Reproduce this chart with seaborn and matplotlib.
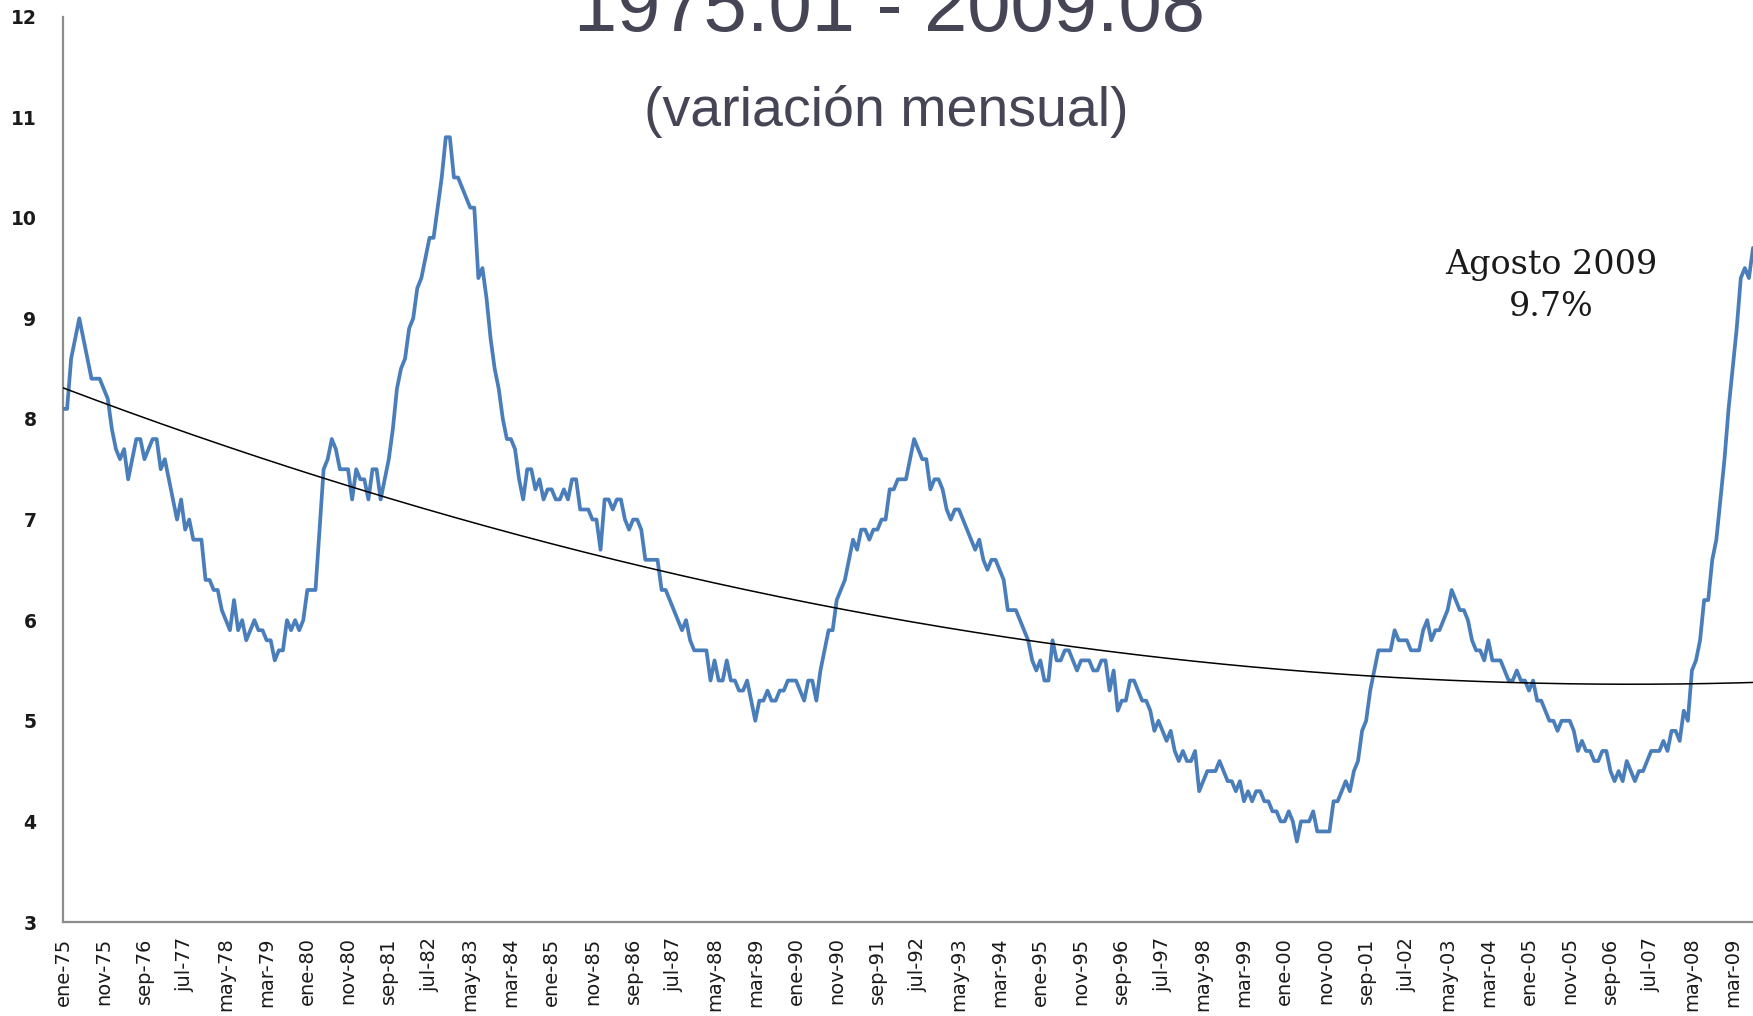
import numpy as np
import pandas as pd
import matplotlib
matplotlib.use("Agg")
import matplotlib.pyplot as plt
import seaborn as sns

# ---- data: US unemployment rate, monthly, 1975.01 - 2009.08 ----
u1975 = [8.1, 8.1, 8.6, 8.8, 9.0, 8.8, 8.6, 8.4, 8.4, 8.4, 8.3, 8.2]
u1976 = [7.9, 7.7, 7.6, 7.7, 7.4, 7.6, 7.8, 7.8, 7.6, 7.7, 7.8, 7.8]
u1977 = [7.5, 7.6, 7.4, 7.2, 7.0, 7.2, 6.9, 7.0, 6.8, 6.8, 6.8, 6.4]
u1978 = [6.4, 6.3, 6.3, 6.1, 6.0, 5.9, 6.2, 5.9, 6.0, 5.8, 5.9, 6.0]
u1979 = [5.9, 5.9, 5.8, 5.8, 5.6, 5.7, 5.7, 6.0, 5.9, 6.0, 5.9, 6.0]
u1980 = [6.3, 6.3, 6.3, 6.9, 7.5, 7.6, 7.8, 7.7, 7.5, 7.5, 7.5, 7.2]
u1981 = [7.5, 7.4, 7.4, 7.2, 7.5, 7.5, 7.2, 7.4, 7.6, 7.9, 8.3, 8.5]
u1982 = [8.6, 8.9, 9.0, 9.3, 9.4, 9.6, 9.8, 9.8, 10.1, 10.4, 10.8, 10.8]
u1983 = [10.4, 10.4, 10.3, 10.2, 10.1, 10.1, 9.4, 9.5, 9.2, 8.8, 8.5, 8.3]
u1984 = [8.0, 7.8, 7.8, 7.7, 7.4, 7.2, 7.5, 7.5, 7.3, 7.4, 7.2, 7.3]
u1985 = [7.3, 7.2, 7.2, 7.3, 7.2, 7.4, 7.4, 7.1, 7.1, 7.1, 7.0, 7.0]
u1986 = [6.7, 7.2, 7.2, 7.1, 7.2, 7.2, 7.0, 6.9, 7.0, 7.0, 6.9, 6.6]
u1987 = [6.6, 6.6, 6.6, 6.3, 6.3, 6.2, 6.1, 6.0, 5.9, 6.0, 5.8, 5.7]
u1988 = [5.7, 5.7, 5.7, 5.4, 5.6, 5.4, 5.4, 5.6, 5.4, 5.4, 5.3, 5.3]
u1989 = [5.4, 5.2, 5.0, 5.2, 5.2, 5.3, 5.2, 5.2, 5.3, 5.3, 5.4, 5.4]
u1990 = [5.4, 5.3, 5.2, 5.4, 5.4, 5.2, 5.5, 5.7, 5.9, 5.9, 6.2, 6.3]
u1991 = [6.4, 6.6, 6.8, 6.7, 6.9, 6.9, 6.8, 6.9, 6.9, 7.0, 7.0, 7.3]
u1992 = [7.3, 7.4, 7.4, 7.4, 7.6, 7.8, 7.7, 7.6, 7.6, 7.3, 7.4, 7.4]
u1993 = [7.3, 7.1, 7.0, 7.1, 7.1, 7.0, 6.9, 6.8, 6.7, 6.8, 6.6, 6.5]
u1994 = [6.6, 6.6, 6.5, 6.4, 6.1, 6.1, 6.1, 6.0, 5.9, 5.8, 5.6, 5.5]
u1995 = [5.6, 5.4, 5.4, 5.8, 5.6, 5.6, 5.7, 5.7, 5.6, 5.5, 5.6, 5.6]
u1996 = [5.6, 5.5, 5.5, 5.6, 5.6, 5.3, 5.5, 5.1, 5.2, 5.2, 5.4, 5.4]
u1997 = [5.3, 5.2, 5.2, 5.1, 4.9, 5.0, 4.9, 4.8, 4.9, 4.7, 4.6, 4.7]
u1998 = [4.6, 4.6, 4.7, 4.3, 4.4, 4.5, 4.5, 4.5, 4.6, 4.5, 4.4, 4.4]
u1999 = [4.3, 4.4, 4.2, 4.3, 4.2, 4.3, 4.3, 4.2, 4.2, 4.1, 4.1, 4.0]
u2000 = [4.0, 4.1, 4.0, 3.8, 4.0, 4.0, 4.0, 4.1, 3.9, 3.9, 3.9, 3.9]
u2001 = [4.2, 4.2, 4.3, 4.4, 4.3, 4.5, 4.6, 4.9, 5.0, 5.3, 5.5, 5.7]
u2002 = [5.7, 5.7, 5.7, 5.9, 5.8, 5.8, 5.8, 5.7, 5.7, 5.7, 5.9, 6.0]
u2003 = [5.8, 5.9, 5.9, 6.0, 6.1, 6.3, 6.2, 6.1, 6.1, 6.0, 5.8, 5.7]
u2004 = [5.7, 5.6, 5.8, 5.6, 5.6, 5.6, 5.5, 5.4, 5.4, 5.5, 5.4, 5.4]
u2005 = [5.3, 5.4, 5.2, 5.2, 5.1, 5.0, 5.0, 4.9, 5.0, 5.0, 5.0, 4.9]
u2006 = [4.7, 4.8, 4.7, 4.7, 4.6, 4.6, 4.7, 4.7, 4.5, 4.4, 4.5, 4.4]
u2007 = [4.6, 4.5, 4.4, 4.5, 4.5, 4.6, 4.7, 4.7, 4.7, 4.8, 4.7, 4.9]
u2008 = [4.9, 4.8, 5.1, 5.0, 5.5, 5.6, 5.8, 6.2, 6.2, 6.6, 6.8, 7.2]
u2009 = [7.6, 8.1, 8.5, 8.9, 9.4, 9.5, 9.4, 9.7]

tick_labels = ["ene-75", "nov-75", "sep-76", "jul-77", "may-78", "mar-79",
               "ene-80", "nov-80", "sep-81", "jul-82", "may-83", "mar-84",
               "ene-85", "nov-85", "sep-86", "jul-87", "may-88", "mar-89",
               "ene-90", "nov-90", "sep-91", "jul-92", "may-93", "mar-94",
               "ene-95", "nov-95", "sep-96", "jul-97", "may-98", "mar-99",
               "ene-00", "nov-00", "sep-01", "jul-02", "may-03", "mar-04",
               "ene-05", "nov-05", "sep-06", "jul-07", "may-08", "mar-09"]
tick_step = 10  # months between labels

title_text = "1975.01 - 2009.08"
subtitle_text = "(variación mensual)"
note_text = "Agosto 2009\n9.7%"

values = np.array(u1975 + u1976 + u1977 + u1978 + u1979 + u1980 + u1981 +
                  u1982 + u1983 + u1984 + u1985 + u1986 + u1987 + u1988 +
                  u1989 + u1990 + u1991 + u1992 + u1993 + u1994 + u1995 +
                  u1996 + u1997 + u1998 + u1999 + u2000 + u2001 + u2002 +
                  u2003 + u2004 + u2005 + u2006 + u2007 + u2008 + u2009)
idx = np.arange(len(values))
df = pd.DataFrame({"mes": idx, "tasa": values})

# polynomial (order 2) trend, like Excel's trendline
coef = np.polyfit(idx + 1, values, 2)
df["tendencia"] = np.polyval(coef, idx + 1)

# ---- plot ----
sns.set_theme(style="white")
plt.rcParams["font.family"] = ["DejaVu Sans"]

fig = plt.figure(figsize=(17.53, 10.16), dpi=100)
ax = fig.add_axes([63 / 1753, 1 - 922 / 1016, 1 - 63 / 1753, (922 - 16.5) / 1016])

sns.lineplot(data=df, x="mes", y="tasa", ax=ax, color="#4A7EBB", linewidth=2.7,
             zorder=3)
sns.lineplot(data=df, x="mes", y="tendencia", ax=ax, color="black", linewidth=1.1,
             zorder=4)

ax.set_xlim(0, len(values) - 1)
ax.set_ylim(3, 12)
ax.set_yticks(range(3, 13))
ax.set_xticks(np.arange(len(tick_labels)) * tick_step)
ax.set_xticklabels(tick_labels, rotation=90, fontsize=14, color="#1a1a1a")
ax.set_yticklabels([str(v) for v in range(3, 13)], fontsize=13.5,
                   fontweight="bold", color="#1a1a1a")
ax.set_xlabel("")
ax.set_ylabel("")

for s in ["top", "right"]:
    ax.spines[s].set_visible(False)
for s in ["left", "bottom"]:
    ax.spines[s].set_color("#8c8c8c")
    ax.spines[s].set_linewidth(1.6)
ax.tick_params(axis="both", which="major", direction="out", length=7, width=1.3,
               color="#8c8c8c")
ax.tick_params(axis="y", pad=12)
ax.tick_params(axis="x", pad=4)
ax.grid(False)

title_font = ["Liberation Sans", "DejaVu Sans"]
fig.text(889 / 1753, 1 - 31 / 1016, title_text, ha="center", va="baseline",
         fontsize=56, color="#454555", family=title_font)
fig.text(886 / 1753, 1 - 112 / 1016, subtitle_text, ha="center", va="center",
         fontsize=40, color="#454555", family=title_font)

ax.text(1551 / 1753, 1 - 286 / 1016, note_text, transform=fig.transFigure,
        ha="center", va="center", fontsize=24, color="#1a1a1a",
        family=["DejaVu Serif"], linespacing=1.4)

fig.savefig("out.png", dpi=100)
